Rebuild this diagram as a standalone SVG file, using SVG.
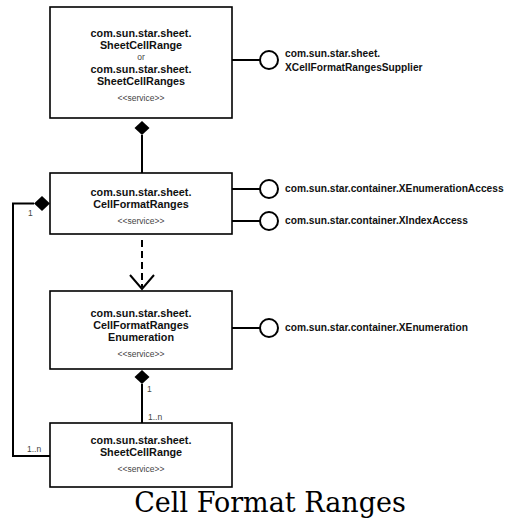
<svg xmlns="http://www.w3.org/2000/svg" width="509" height="519" viewBox="0 0 509 519">
<style>
.box{fill:#fff;stroke:#000;stroke-width:1.6}
.t{font-family:"Liberation Sans",Arial,sans-serif;font-weight:bold;font-size:10.8px;fill:#111;text-anchor:middle}
.ti{font-family:"Liberation Sans",Arial,sans-serif;font-weight:bold;font-size:10.2px;fill:#111}
.s{font-family:"Liberation Sans",Arial,sans-serif;font-size:8.5px;fill:#444;text-anchor:middle}
.m{font-family:"Liberation Sans",Arial,sans-serif;font-size:8.5px;fill:#444}
.ln{fill:none;stroke:#000;stroke-width:2}
.lol{fill:#fff;stroke:#000;stroke-width:2}
.dia{fill:#000}
</style>
<g id="connectors">
<line class="ln" x1="142" y1="135" x2="142" y2="173"/>
<polygon class="dia" points="142,121 149.5,128 142,135 134.5,128"/>
<line class="ln" x1="142" y1="240" x2="142" y2="287" stroke-dasharray="7,4"/>
<polyline class="ln" points="130,275 142,289 154,275"/>
<line class="ln" x1="142" y1="384" x2="142" y2="423"/>
<polygon class="dia" points="142,370 149.5,377 142,384 134.5,377"/>
<text class="m" x="147" y="392">1</text>
<text class="m" x="148" y="420">1..n</text>
<polyline class="ln" points="34,203.5 13,203.5 13,456 50,456"/>
<polygon class="dia" points="34,203.5 42,196 50,203.5 42,211"/>
<text class="m" x="28" y="216">1</text>
<text class="m" x="27" y="452">1..n</text>
<line class="ln" x1="232" y1="60" x2="260" y2="60"/>
<circle class="lol" cx="269" cy="60" r="9"/>
<line class="ln" x1="232" y1="189" x2="260" y2="189"/>
<circle class="lol" cx="269" cy="189" r="9"/>
<line class="ln" x1="232" y1="221" x2="260" y2="221"/>
<circle class="lol" cx="269" cy="221" r="9"/>
<line class="ln" x1="232" y1="328" x2="260" y2="328"/>
<circle class="lol" cx="269" cy="328" r="9"/>
</g>
<g id="n1">
<rect class="box" x="50" y="7" width="182" height="111"/>
<text class="t" x="141" y="37">com.sun.star.sheet.</text>
<text class="t" x="141" y="49">SheetCellRange</text>
<text class="s" x="141" y="60">or</text>
<text class="t" x="141" y="73">com.sun.star.sheet.</text>
<text class="t" x="141" y="85">SheetCellRanges</text>
<text class="s" x="141" y="101">&lt;&lt;service&gt;&gt;</text>
</g>
<g id="i1">
<text class="ti" x="285" y="57">com.sun.star.sheet.</text>
<text class="ti" x="285" y="71">XCellFormatRangesSupplier</text>
</g>
<g id="n2">
<rect class="box" x="50" y="173" width="182" height="61"/>
<text class="t" x="141" y="196">com.sun.star.sheet.</text>
<text class="t" x="141" y="208">CellFormatRanges</text>
<text class="s" x="141" y="224">&lt;&lt;service&gt;&gt;</text>
</g>
<g id="i2"><text class="ti" x="285" y="192">com.sun.star.container.XEnumerationAccess</text></g>
<g id="i3"><text class="ti" x="285" y="224">com.sun.star.container.XIndexAccess</text></g>
<g id="n3">
<rect class="box" x="50" y="291" width="182" height="78"/>
<text class="t" x="141" y="317">com.sun.star.sheet.</text>
<text class="t" x="141" y="329">CellFormatRanges</text>
<text class="t" x="141" y="341">Enumeration</text>
<text class="s" x="141" y="357">&lt;&lt;service&gt;&gt;</text>
</g>
<g id="i4"><text class="ti" x="285" y="331">com.sun.star.container.XEnumeration</text></g>
<g id="n4">
<rect class="box" x="50" y="423" width="182" height="64"/>
<text class="t" x="141" y="444">com.sun.star.sheet.</text>
<text class="t" x="141" y="456">SheetCellRange</text>
<text class="s" x="141" y="472">&lt;&lt;service&gt;&gt;</text>
</g>
<text x="270" y="512" font-family="DejaVu Serif,serif" font-size="27" text-anchor="middle" fill="#000">Cell Format Ranges</text>
</svg>
